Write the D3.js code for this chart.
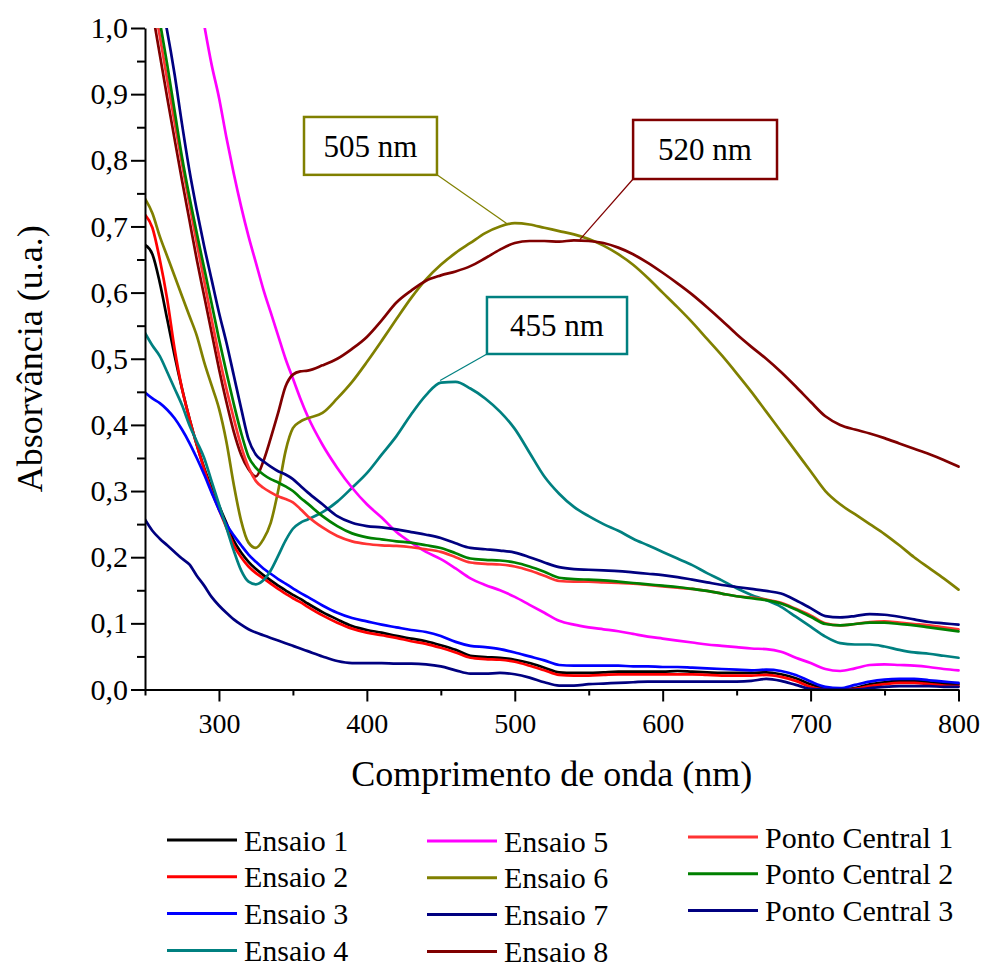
<!DOCTYPE html>
<html>
<head>
<meta charset="utf-8">
<script src="https://cdn.jsdelivr.net/npm/d3@7"></script>
<style>
body { margin: 0; background: #fff; }
.axis path, .axis line { stroke: #000; stroke-width: 2px; }
.line { fill: none; stroke-width: 2.7px; stroke-linejoin: round; stroke-linecap: round; }
</style>
</head>
<body>
<script>
// wavelength grid (nm) shared by every spectrum
var wavelength = [250,255,260,265,270,275,280,285,290,295,300,305,310,315,320,325,330,335,340,345,350,355,360,
  370,380,390,400,410,420,430,440,450,460,470,480,490,500,510,520,530,540,550,560,570,580,590,600,
  610,620,630,640,650,660,670,680,690,700,710,720,730,740,750,760,770,780,790,800];

// absorbance (values above 1,0 fall outside the frame)
var ensaio1 = [0.672,0.658,0.615,0.56,0.505,0.455,0.41,0.37,0.335,0.305,0.278,0.252,0.225,0.207,0.193,0.182,0.173,0.165,0.157,0.150,0.143,0.137,0.130,
  0.117,0.106,0.096,0.090,0.086,0.081,0.077,0.073,0.067,0.060,0.051,0.049,0.048,0.045,0.040,0.033,0.026,0.025,0.025,0.026,0.027,0.027,0.027,0.027,
  0.028,0.027,0.026,0.025,0.025,0.025,0.026,0.023,0.017,0.008,0.001,0.0,0.002,0.008,0.011,0.013,0.013,0.011,0.009,0.008];
var ensaio2 = [0.718,0.698,0.65,0.59,0.515,0.455,0.41,0.37,0.333,0.30,0.272,0.245,0.218,0.200,0.186,0.176,0.168,0.160,0.152,0.145,0.138,0.132,0.125,
  0.112,0.101,0.092,0.086,0.082,0.078,0.073,0.069,0.063,0.056,0.048,0.046,0.045,0.042,0.036,0.029,0.022,0.021,0.021,0.022,0.023,0.023,0.023,0.023,
  0.023,0.023,0.022,0.021,0.021,0.021,0.022,0.019,0.013,0.004,0.0,0.0,0.001,0.005,0.008,0.010,0.010,0.008,0.006,0.005];
var ensaio3 = [0.449,0.44,0.433,0.423,0.41,0.393,0.373,0.35,0.325,0.298,0.272,0.25,0.233,0.218,0.204,0.193,0.183,0.175,0.167,0.160,0.153,0.146,0.140,
  0.127,0.116,0.108,0.103,0.098,0.094,0.090,0.087,0.081,0.072,0.066,0.064,0.061,0.056,0.050,0.044,0.037,0.036,0.036,0.036,0.036,0.035,0.035,0.034,
  0.034,0.033,0.032,0.031,0.030,0.029,0.030,0.028,0.022,0.012,0.004,0.002,0.007,0.012,0.015,0.016,0.016,0.014,0.012,0.010];
var ensaio4 = [0.539,0.52,0.504,0.48,0.455,0.43,0.40,0.375,0.35,0.315,0.28,0.245,0.21,0.18,0.163,0.159,0.165,0.18,0.202,0.225,0.243,0.252,0.257,
  0.268,0.284,0.305,0.327,0.355,0.383,0.416,0.445,0.464,0.465,0.455,0.440,0.42,0.394,0.358,0.322,0.296,0.276,0.262,0.25,0.24,0.228,0.218,0.208,
  0.198,0.188,0.176,0.165,0.153,0.143,0.135,0.125,0.11,0.095,0.08,0.07,0.068,0.068,0.065,0.06,0.056,0.054,0.051,0.048];
var ensaio5 = [1.60,1.52,1.44,1.36,1.29,1.21,1.14,1.07,1.005,0.945,0.895,0.835,0.78,0.73,0.685,0.645,0.605,0.57,0.535,0.50,0.47,0.44,0.413,
  0.37,0.335,0.305,0.28,0.26,0.238,0.222,0.208,0.197,0.183,0.168,0.158,0.150,0.140,0.128,0.116,0.104,0.098,0.094,0.091,0.088,0.084,0.080,0.077,
  0.074,0.071,0.068,0.066,0.064,0.062,0.061,0.057,0.048,0.040,0.031,0.028,0.032,0.037,0.038,0.037,0.036,0.034,0.031,0.029];
var ensaio6 = [0.742,0.72,0.685,0.655,0.625,0.595,0.565,0.535,0.495,0.46,0.425,0.375,0.31,0.255,0.222,0.214,0.227,0.252,0.30,0.36,0.395,0.405,0.41,
  0.418,0.44,0.465,0.495,0.527,0.56,0.592,0.62,0.642,0.66,0.675,0.69,0.70,0.705,0.703,0.698,0.693,0.688,0.681,0.671,0.658,0.642,0.622,0.60,
  0.578,0.555,0.53,0.505,0.478,0.45,0.42,0.39,0.36,0.33,0.30,0.28,0.265,0.25,0.235,0.218,0.20,0.184,0.168,0.151];
var ensaio7 = [0.257,0.24,0.228,0.218,0.208,0.198,0.189,0.172,0.157,0.14,0.127,0.116,0.106,0.098,0.091,0.086,0.082,0.078,0.074,0.07,0.066,0.062,0.058,
  0.050,0.043,0.040,0.040,0.040,0.039,0.039,0.038,0.035,0.029,0.024,0.024,0.025,0.023,0.018,0.011,0.006,0.006,0.008,0.009,0.010,0.011,0.012,0.012,
  0.012,0.012,0.012,0.012,0.012,0.013,0.016,0.013,0.007,0.001,0.0,0.0,0.0,0.002,0.004,0.005,0.005,0.005,0.004,0.004];
var ensaio8 = [1.09,1.025,0.96,0.895,0.832,0.77,0.71,0.65,0.595,0.54,0.485,0.435,0.39,0.355,0.333,0.322,0.345,0.38,0.418,0.458,0.476,0.481,0.482,
  0.49,0.50,0.515,0.533,0.558,0.585,0.603,0.618,0.626,0.632,0.64,0.652,0.665,0.675,0.678,0.678,0.677,0.679,0.678,0.675,0.668,0.658,0.645,0.63,
  0.614,0.597,0.578,0.558,0.537,0.518,0.50,0.48,0.458,0.435,0.413,0.40,0.393,0.387,0.38,0.372,0.364,0.356,0.347,0.337];
var pontoCentral1 = [1.11,1.05,0.988,0.922,0.858,0.795,0.735,0.675,0.618,0.56,0.505,0.455,0.41,0.368,0.336,0.315,0.305,0.298,0.292,0.288,0.283,0.273,0.262,
  0.245,0.232,0.224,0.220,0.218,0.217,0.215,0.212,0.208,0.200,0.192,0.190,0.189,0.186,0.180,0.172,0.164,0.163,0.163,0.162,0.161,0.160,0.158,0.156,
  0.154,0.152,0.149,0.145,0.141,0.139,0.136,0.131,0.122,0.112,0.100,0.097,0.099,0.102,0.103,0.101,0.099,0.097,0.094,0.091];
var pontoCentral2 = [1.14,1.075,1.01,0.945,0.875,0.805,0.745,0.69,0.637,0.584,0.53,0.48,0.432,0.388,0.352,0.335,0.325,0.318,0.313,0.307,0.30,0.29,0.281,
  0.262,0.247,0.236,0.230,0.227,0.224,0.222,0.218,0.214,0.206,0.198,0.196,0.195,0.192,0.186,0.178,0.169,0.167,0.166,0.165,0.163,0.161,0.159,0.157,
  0.155,0.152,0.149,0.145,0.141,0.138,0.135,0.130,0.121,0.110,0.099,0.097,0.099,0.101,0.101,0.099,0.097,0.094,0.091,0.088];
var pontoCentral3 = [1.17,1.11,1.05,0.995,0.93,0.855,0.785,0.725,0.67,0.62,0.57,0.525,0.475,0.425,0.378,0.355,0.345,0.337,0.33,0.325,0.318,0.308,0.298,
  0.28,0.262,0.252,0.247,0.245,0.242,0.238,0.234,0.229,0.221,0.214,0.212,0.210,0.207,0.200,0.192,0.185,0.182,0.181,0.180,0.179,0.177,0.175,0.173,
  0.170,0.166,0.162,0.158,0.155,0.152,0.149,0.145,0.135,0.123,0.111,0.109,0.111,0.114,0.113,0.110,0.106,0.102,0.100,0.098];

var seriesNames = ["Ensaio 1","Ensaio 2","Ensaio 3","Ensaio 4","Ensaio 5","Ensaio 6","Ensaio 7","Ensaio 8",
  "Ponto Central 1","Ponto Central 2","Ponto Central 3"];
var seriesValues = [ensaio1, ensaio2, ensaio3, ensaio4, ensaio5, ensaio6, ensaio7, ensaio8,
  pontoCentral1, pontoCentral2, pontoCentral3];
var seriesColors = ["#000000","#ff0000","#0000ff","#008080","#ff00ff","#808000","#000080","#800000",
  "#ff3333","#008000","#000080"];

// tick values
var xMajorTicks = [300,400,500,600,700,800];
var xMinorTicks = [250,350,450,550,650,750];
var yMajorTicks = [0,0.1,0.2,0.3,0.4,0.5,0.6,0.7,0.8,0.9,1.0];
var yMinorTicks = [0.05,0.15,0.25,0.35,0.45,0.55,0.65,0.75,0.85,0.95];

// peak callouts: label, series it belongs to, and the point on the curve the leader touches
var peakLabels = ["505 nm","520 nm","455 nm"];
var peakSeries = [5, 7, 3];
var peakPoints = [[494.8,0.704],[544,0.68],[449.5,0.467]];

var serif = "Liberation Serif";

var margin = {top: 28, right: 25.5, bottom: 277.5, left: 145},
    width = 984 - margin.left - margin.right,
    height = 967 - margin.top - margin.bottom;

var x = d3.scaleLinear().domain([250, 800]).range([0, width]),
    y = d3.scaleLinear().domain([0, 1]).range([height, 0]);

var ptBR = d3.formatLocale({decimal: ",", thousands: ".", grouping: [3], currency: ["R$", ""]});

var svg = d3.select("body").append("svg")
    .attr("width", 984)
    .attr("height", 967);
var g = svg.append("g").attr("transform", "translate(" + margin.left + "," + margin.top + ")");

svg.append("defs").append("clipPath").attr("id", "plot-clip")
  .append("rect").attr("x", 0).attr("y", 0).attr("width", width + 2).attr("height", height);

var line = d3.line()
    .curve(d3.curveMonotoneX)
    .x(function(d) { return x(d.wl); })
    .y(function(d) { return y(d.abs); });

var series = seriesNames.map(function(name, i) {
  return {
    id: name,
    color: seriesColors[i],
    values: wavelength.map(function(w, j) { return {wl: w, abs: seriesValues[i][j]}; })
  };
});

// spectra
g.append("g")
    .attr("clip-path", "url(#plot-clip)")
  .selectAll(".line")
  .data(series)
  .enter().append("path")
    .attr("class", "line")
    .attr("d", function(d) { return line(d.values); })
    .style("stroke", function(d) { return d.color; });

// axes (minor ticks drawn as a second axis without labels)
g.append("g")
    .attr("class", "axis axis--x")
    .attr("transform", "translate(0," + height + ")")
    .call(d3.axisBottom(x).tickValues(xMinorTicks).tickSize(6).tickSizeOuter(0).tickFormat(""))
    .select(".domain").remove();
g.append("g")
    .attr("class", "axis axis--x")
    .attr("transform", "translate(0," + height + ")")
    .call(d3.axisBottom(x).tickValues(xMajorTicks).tickSize(12).tickSizeOuter(0).tickPadding(12).tickFormat(d3.format("d")))
    .selectAll("text")
    .style("font-family", serif)
    .style("font-size", "28px")
    .style("fill", "#000");

g.append("g")
    .attr("class", "axis axis--y")
    .call(d3.axisLeft(y).tickValues(yMinorTicks).tickSize(8).tickSizeOuter(0).tickFormat(""))
    .select(".domain").remove();
g.append("g")
    .attr("class", "axis axis--y")
    .call(d3.axisLeft(y).tickValues(yMajorTicks).tickSize(14).tickSizeOuter(0).tickPadding(3).tickFormat(ptBR.format(".1f")))
    .selectAll("text")
    .style("font-family", serif)
    .style("font-size", "30px")
    .style("fill", "#000");

// axis titles
g.append("text")
    .attr("x", width / 2)
    .attr("y", height + 96.5)
    .attr("text-anchor", "middle")
    .style("font-family", serif)
    .style("font-size", "36px")
    .text("Comprimento de onda (nm)");

g.append("text")
    .attr("transform", "rotate(-90)")
    .attr("x", -height / 2)
    .attr("y", -103)
    .attr("text-anchor", "middle")
    .style("font-family", serif)
    .style("font-size", "36px")
    .text("Absorvância (u.a.)");

// callout boxes, placed in data units so they sit where the original put them
var boxes = [
  {x0: 357.5, x1: 447.4, y0: 0.8655, y1: 0.778, corner: "right"},
  {x0: 580, x1: 677.3, y0: 0.861, y1: 0.7717, corner: "left"},
  {x0: 481.2, x1: 575.9, y0: 0.5933, y1: 0.5072, corner: "left"}
];

var callout = g.selectAll(".callout")
  .data(peakLabels)
  .enter().append("g")
    .attr("class", "callout");

callout.append("line")
    .attr("x1", function(d, i) { return x(boxes[i].corner == "right" ? boxes[i].x1 : boxes[i].x0); })
    .attr("y1", function(d, i) { return y(boxes[i].y1); })
    .attr("x2", function(d, i) { return x(peakPoints[i][0]); })
    .attr("y2", function(d, i) { return y(peakPoints[i][1]); })
    .style("stroke", function(d, i) { return seriesColors[peakSeries[i]]; })
    .style("stroke-width", "1.2px");

callout.append("rect")
    .attr("x", function(d, i) { return x(boxes[i].x0); })
    .attr("y", function(d, i) { return y(boxes[i].y0); })
    .attr("width", function(d, i) { return x(boxes[i].x1) - x(boxes[i].x0); })
    .attr("height", function(d, i) { return y(boxes[i].y1) - y(boxes[i].y0); })
    .style("fill", "#fff")
    .style("stroke", function(d, i) { return seriesColors[peakSeries[i]]; })
    .style("stroke-width", "2.5px");

callout.append("text")
    .attr("x", function(d, i) { return (x(boxes[i].x0) + x(boxes[i].x1)) / 2; })
    .attr("y", function(d, i) { return (y(boxes[i].y0) + y(boxes[i].y1)) / 2; })
    .attr("dy", "0.35em")
    .attr("text-anchor", "middle")
    .style("font-family", serif)
    .style("font-size", "31px")
    .text(function(d) { return d; });

// legend: three columns below the plot
var legendColumns = [[0,1,2,3],[4,5,6,7],[8,9,10]];
var legendX = [167, 427, 688],
    legendY = [840, 841, 837],
    rowStep = 36.8;

var legend = svg.append("g").attr("class", "legend");
legendColumns.forEach(function(col, c) {
  var item = legend.selectAll(".item-" + c)
    .data(col)
    .enter().append("g")
      .attr("transform", function(d, r) { return "translate(" + legendX[c] + "," + (legendY[c] + r * rowStep) + ")"; });
  item.append("line")
      .attr("x1", 0).attr("x2", 70)
      .style("stroke", function(d) { return seriesColors[d]; })
      .style("stroke-width", "3px");
  item.append("text")
      .attr("x", 77)
      .attr("dy", "0.35em")
      .style("font-family", serif)
      .style("font-size", "30px")
      .text(function(d) { return seriesNames[d]; });
});
</script>
</body>
</html>
